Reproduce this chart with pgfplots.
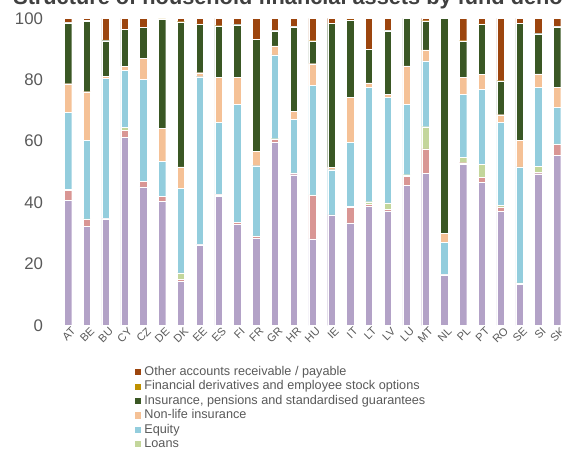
\documentclass[border=0pt]{standalone}
\usepackage{pgfplots}
\usepackage{pgfplotstable}
\usepackage{fontspec}
\setmainfont{Liberation Sans}
\pgfplotsset{compat=1.18}

\definecolor{ccur}{HTML}{B3A2C7}
\definecolor{cdebt}{HTML}{D99694}
\definecolor{cloan}{HTML}{C3D69B}
\definecolor{ceq}{HTML}{93CDDD}
\definecolor{cnl}{HTML}{F5C196}
\definecolor{cder}{HTML}{BF9000}
\definecolor{cins}{HTML}{3A5724}
\definecolor{coth}{HTML}{9C450E}
\definecolor{txt}{HTML}{595959}

\pgfplotstableread{
cty cur debt loans eq nonlife ins deriv other
AT 40.8 3.2 0.3 25.0 9.4 19.8 0.1 1.4
BE 32.3 2.3 0.1 25.5 15.9 23.0 0.2 0.7
BU 34.7 0.2 0.0 45.5 0.7 11.6 0.3 7.0
CY 61.3 2.2 1.1 18.4 1.4 12.0 0.1 3.5
CZ 45.1 1.8 0.1 33.1 6.9 10.0 0.1 2.9
DE 40.5 1.5 0.1 11.4 10.6 35.6 0.1 0.2
DK 14.3 0.7 2.1 27.5 7.0 47.2 0.1 1.1
EE 26.2 0.2 0.1 54.5 1.3 15.8 0.1 1.8
ES 42.0 0.5 0.1 23.5 14.6 16.8 0.1 2.4
FI 32.9 0.6 0.1 38.3 8.8 17.2 0.1 2.0
FR 28.4 0.6 0.2 22.8 4.7 36.4 0.1 6.8
GR 59.7 1.0 0.1 27.3 2.9 4.9 0.1 4.0
HR 49.1 0.5 0.1 17.5 2.5 27.5 0.1 2.7
HU 28.2 14.2 0.1 35.6 7.1 7.4 0.1 7.3
IE 35.8 0.2 0.0 14.7 0.8 46.8 0.1 1.6
IT 33.4 5.1 0.2 20.9 14.7 25.1 0.1 0.5
LT 38.8 0.7 0.8 37.2 1.5 10.8 0.1 10.1
LV 37.3 0.5 2.1 34.4 0.9 20.7 0.1 4.0
LU 45.7 2.8 0.6 22.9 12.5 15.5 0.0 0.0
MT 49.6 7.9 7.2 21.4 3.6 9.4 0.1 0.8
NL 16.5 0.1 0.0 10.5 3.0 69.8 0.0 0.1
PL 52.4 0.6 1.8 20.5 5.4 11.9 0.1 7.3
PT 46.6 1.6 4.3 24.4 4.8 16.4 0.1 1.8
RO 37.1 1.5 0.6 27.0 2.4 11.0 0.1 20.3
SE 13.3 0.5 0.1 37.7 8.7 38.0 0.1 1.6
SI 49.4 0.4 2.1 25.7 4.3 13.1 0.1 4.9
SK 55.3 3.7 0.1 11.9 6.6 19.6 0.1 2.7
}\assets

\begin{document}
\begin{tikzpicture}
\begin{axis}[
  scale only axis,
  width=380.9pt, height=230.4pt,
  ybar stacked, bar width=5.5pt,
  xmin=-0.5, xmax=26.5,
  ymin=0, ymax=100,
  ytick={0,20,...,100},
  xtick=data,
  xticklabels from table={\assets}{cty},
  axis line style={draw=none},
  major tick length=0pt,
  yticklabel style={font=\fontsize{12.6}{14}\selectfont, text=txt, anchor=east, inner sep=0pt, xshift=-11.5pt},
  xticklabel style={font=\fontsize{8.3}{9}\selectfont, text=txt, rotate=45, anchor=north east, inner sep=1pt, xshift=2pt, yshift=-1pt},
  /pgf/number format/assume math mode=true,
  legend cell align=left,
  reverse legend,
  legend style={draw=none, fill=none, at={(0.1406,-0.115)}, anchor=north west,
    font=\fontsize{9.5}{10}\selectfont, text=txt, row sep=-1.6pt,
    /tikz/every even column/.append style={column sep=0pt}},
  legend image code/.code={\fill[#1] (0pt,-2.7pt) rectangle (5.4pt,2.7pt);},
  every axis plot/.append style={draw=white, line width=0.2pt},
]
\addplot[fill=ccur, forget plot] table[x expr=\coordindex, y=cur] {\assets};
\addplot[fill=cdebt, forget plot] table[x expr=\coordindex, y=debt] {\assets};
\addplot[fill=cloan] table[x expr=\coordindex, y=loans] {\assets};
\addlegendentry{Loans}
\addplot[fill=ceq] table[x expr=\coordindex, y=eq] {\assets};
\addlegendentry{Equity}
\addplot[fill=cnl] table[x expr=\coordindex, y=nonlife] {\assets};
\addlegendentry{Non-life insurance}
\addplot[fill=cins] table[x expr=\coordindex, y=ins] {\assets};
\addlegendentry{Insurance, pensions and standardised guarantees}
\addplot[fill=cder] table[x expr=\coordindex, y=deriv] {\assets};
\addlegendentry{Financial derivatives and employee stock options}
\addplot[fill=coth] table[x expr=\coordindex, y=other] {\assets};
\addlegendentry{Other accounts receivable / payable}
\end{axis}
\node[anchor=base west, inner sep=0pt, font=\fontsize{16.3}{18}\selectfont\bfseries, text=black!75]
  at (-34.2pt,240.75pt) {Structure of household financial assets by fund denomination};
\pgfresetboundingbox
\path (-43.95pt,-102.4pt) rectangle (377.55pt,244.1pt);
\end{tikzpicture}
\end{document}
